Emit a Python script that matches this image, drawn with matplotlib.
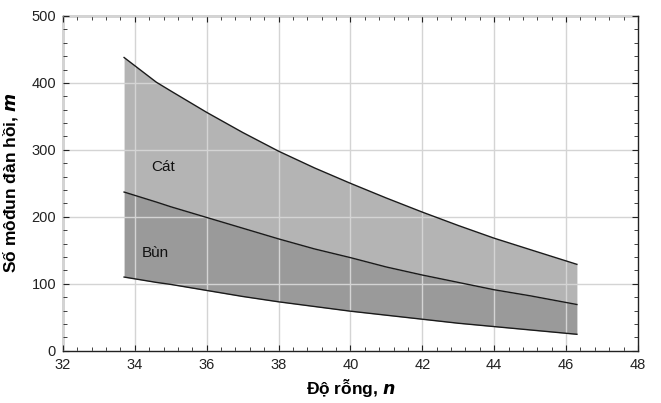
import matplotlib
matplotlib.use("Agg")
import matplotlib.pyplot as plt
from matplotlib.ticker import MultipleLocator

plt.rcParams["font.family"] = ["Liberation Sans", "DejaVu Sans"]

# ---- data -------------------------------------------------------------------
n_vals = [33.7, 34.6, 35.0, 36.0, 37.0, 38.0, 39.0, 40.0, 41.0, 42.0, 43.0, 44.0, 45.0, 46.3]
cat_top = [438, 401, 388, 356, 326, 298, 273, 250, 228, 207, 187, 168, 151, 129]   # upper edge "Cát"
bun_top = [237, 222, 215, 199, 183, 167, 152, 139, 125, 113, 102, 91, 82, 69]      # Cát / Bùn boundary
bun_bot = [110, 102, 99, 90, 81, 73, 66, 59, 53, 47, 41, 36, 31, 24.5]            # lower edge "Bùn"

C_CAT = "#b4b4b4"
C_BUN = "#9a9a9a"

fig = plt.figure(figsize=(6.61, 4.03), dpi=100)
fig.patch.set_facecolor("white")
ax = fig.add_axes([0.0953, 0.1298, 0.8699, 0.8305])

ax.fill_between(n_vals, bun_top, cat_top, color=C_CAT, lw=0, zorder=1)
ax.fill_between(n_vals, bun_bot, bun_top, color=C_BUN, lw=0, zorder=1)
for ys in (cat_top, bun_top, bun_bot):
    ax.plot(n_vals, ys, color="#1a1a1a", lw=1.0, zorder=3)

ax.grid(True, which="major", color="#d4d4d4", lw=1.0, zorder=2)
ax.set_axisbelow(False)

ax.set_xlim(32, 48)
ax.set_ylim(0, 500)
ax.xaxis.set_major_locator(MultipleLocator(2))
ax.xaxis.set_minor_locator(MultipleLocator(0.4))
ax.yaxis.set_major_locator(MultipleLocator(100))
ax.yaxis.set_minor_locator(MultipleLocator(20))
ax.tick_params(which="both", direction="in", top=True, right=True,
               color="#222222", labelsize=10.5, labelcolor="#222222")
ax.tick_params(which="major", length=4, pad=5)
ax.tick_params(which="minor", length=3)
for s in ax.spines.values():
    s.set_color("#222222")
    s.set_linewidth(1.0)

ax.text(34.78, 275, "Cát", fontsize=11, ha="center", va="center", color="#111111", zorder=4)
ax.text(34.58, 146, "Bùn", fontsize=11, ha="center", va="center", color="#111111", zorder=4)

ax.set_xlabel("Độ rỗng, $\\boldsymbol{n}$", fontsize=12.5, fontweight="bold", labelpad=4)
ax.set_ylabel("Số môđun đàn hồi, $\\boldsymbol{m}$", fontsize=12.5, fontweight="bold", labelpad=8)

fig.savefig("out.png", dpi=100, facecolor="white")
